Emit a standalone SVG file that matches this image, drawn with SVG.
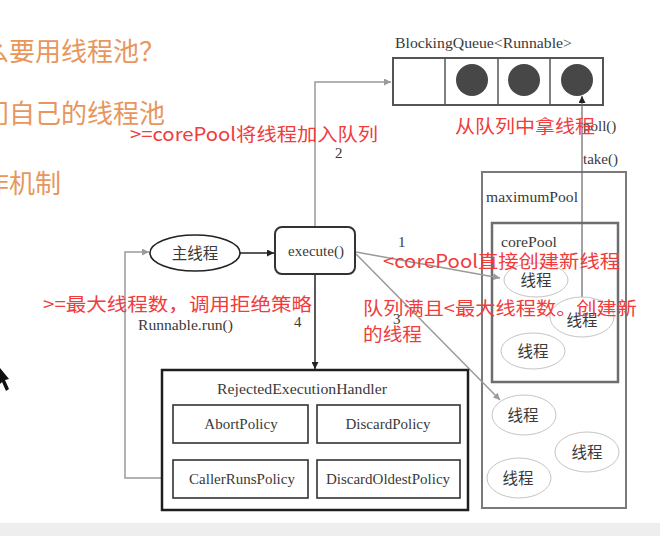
<svg xmlns="http://www.w3.org/2000/svg" width="660" height="536" viewBox="0 0 660 536">
<defs>
<style>
.serif{font-family:"Liberation Serif","DejaVu Serif","Noto Sans CJK SC",serif;fill:#3a3a3a;font-size:15px}
.cjk{font-family:"Noto Sans CJK SC","Noto Sans",sans-serif;fill:#3a3a3a;font-size:15.5px}
.red{font-family:"Noto Sans CJK SC","Noto Sans",sans-serif;fill:#f03c3c;font-size:18.5px}
.org{font-family:"Noto Sans CJK SC","Noto Sans",sans-serif;fill:#e8965c;font-size:26px}
.gl{fill:none;stroke:#9a9a9a;stroke-width:1.5}
.bl{fill:none;stroke:#222;stroke-width:1.5}
.box{fill:#fff;stroke:#333;stroke-width:1.6}
.ell{fill:#fff;stroke:#c4c4c4;stroke-width:1}
</style>
<marker id="ag" viewBox="0 0 10 10" refX="10" refY="5" markerWidth="7" markerHeight="7" orient="auto" markerUnits="userSpaceOnUse"><path d="M0,0 L10,5 L0,10 z" fill="#9a9a9a"/></marker>
<marker id="ab" viewBox="0 0 10 10" refX="10" refY="5" markerWidth="7" markerHeight="7" orient="auto" markerUnits="userSpaceOnUse"><path d="M0,0 L10,5 L0,10 z" fill="#222"/></marker>
</defs>
<rect x="0" y="0" width="660" height="536" fill="#fff"/>
<rect x="0" y="523" width="660" height="13" fill="#eeeeee"/>

<g id="slide-text">
<text class="org" x="-17" y="61">么要用线程池？</text>
<text class="org" x="-17" y="123">门自己的线程池</text>
<text class="org" x="-17" y="193">作机制</text>
</g>

<g id="queue">
<text class="serif" x="395" y="48" textLength="177" lengthAdjust="spacingAndGlyphs">BlockingQueue&lt;Runnable&gt;</text>
<rect x="393" y="58" width="210" height="47" fill="#fff" stroke="#555" stroke-width="2"/>
<line x1="445" y1="58" x2="445" y2="105" stroke="#555" stroke-width="1.5"/>
<line x1="498" y1="58" x2="498" y2="105" stroke="#555" stroke-width="1.5"/>
<line x1="550" y1="58" x2="550" y2="105" stroke="#555" stroke-width="1.5"/>
<circle cx="472" cy="80" r="16" fill="#474747"/>
<circle cx="524" cy="80" r="16" fill="#474747"/>
<circle cx="577" cy="80" r="16" fill="#474747"/>
</g>

<g id="maximumPool">
<rect x="482" y="172" width="144" height="336" fill="none" stroke="#7a7a7a" stroke-width="2"/>
<text class="serif" x="486" y="202" textLength="92" lengthAdjust="spacingAndGlyphs">maximumPool</text>
</g>

<g id="corePool">
<rect x="492" y="223" width="126" height="159" fill="none" stroke="#6e6e6e" stroke-width="2.5"/>
<text class="serif" x="501" y="247" textLength="56" lengthAdjust="spacingAndGlyphs">corePool</text>
</g>

<g id="connectors">
<polyline class="gl" points="315,227 315,82 391,82" marker-end="url(#ag)"/>
<line class="gl" x1="356" y1="252" x2="500" y2="278" marker-end="url(#ag)"/>
<line class="gl" x1="356" y1="254" x2="500" y2="400" marker-end="url(#ag)"/>
<line class="bl" x1="240" y1="253" x2="274" y2="253" marker-end="url(#ab)"/>
<line class="bl" x1="315" y1="274" x2="315" y2="369" marker-end="url(#ab)"/>
<line x1="582" y1="298" x2="582" y2="96" stroke="#666" stroke-width="1.2" marker-end="url(#ab)"/>
<polyline class="gl" points="173,478 125,478 125,252 149,252" marker-end="url(#ag)"/>
</g>

<g id="t1"><ellipse class="ell" cx="536" cy="280" rx="32" ry="17"/><text class="cjk" x="536" y="286" text-anchor="middle">线程</text></g>
<g id="t2"><ellipse class="ell" cx="582" cy="317" rx="32" ry="20" fill-opacity="0.6"/><text class="cjk" x="582" y="326" text-anchor="middle">线程</text></g>
<g id="t3"><ellipse class="ell" cx="533" cy="351" rx="32" ry="18"/><text class="cjk" x="533" y="357" text-anchor="middle">线程</text></g>
<g id="t4"><ellipse class="ell" cx="524" cy="415" rx="32" ry="20"/><text class="cjk" x="523" y="421" text-anchor="middle">线程</text></g>
<g id="t5"><ellipse class="ell" cx="587" cy="452" rx="32" ry="20"/><text class="cjk" x="587" y="458" text-anchor="middle">线程</text></g>
<g id="t6"><ellipse class="ell" cx="519" cy="478" rx="32" ry="20"/><text class="cjk" x="518" y="484" text-anchor="middle">线程</text></g>

<g id="labels">
<text class="serif" x="335" y="158">2</text>
<text class="serif" x="398" y="247">1</text>
<text class="serif" x="393" y="324">3</text>
<text class="serif" x="294" y="327">4</text>
<text class="serif" x="583" y="131">poll()</text>
<text class="serif" x="583" y="164">take()</text>
<text class="serif" x="138" y="330" textLength="95" lengthAdjust="spacingAndGlyphs">Runnable.run()</text>
</g>

<g id="mainThread">
<ellipse cx="195" cy="253" rx="45" ry="18" fill="#fff" stroke="#222" stroke-width="1.6"/>
<text class="cjk" x="195" y="259" text-anchor="middle">主线程</text>
</g>

<g id="execute">
<rect x="275" y="227" width="80" height="47" rx="7" fill="#fff" stroke="#333" stroke-width="2"/>
<text class="serif" x="316" y="256" text-anchor="middle">execute()</text>
</g>

<g id="handler">
<rect x="162" y="370" width="306" height="140" fill="#fff" stroke="#1e1e1e" stroke-width="2.5"/>
<text class="serif" x="302" y="394" text-anchor="middle" textLength="170" lengthAdjust="spacingAndGlyphs">RejectedExecutionHandler</text>
</g>
<g id="abort"><rect class="box" x="173" y="405" width="135" height="38"/><text class="serif" x="241" y="429" text-anchor="middle">AbortPolicy</text></g>
<g id="discard"><rect class="box" x="317" y="405" width="143" height="38"/><text class="serif" x="388" y="429" text-anchor="middle">DiscardPolicy</text></g>
<g id="callerRuns"><rect class="box" x="173" y="460" width="135" height="38"/><text class="serif" x="242" y="484" text-anchor="middle">CallerRunsPolicy</text></g>
<g id="discardOldest"><rect class="box" x="317" y="460" width="143" height="38"/><text class="serif" x="388" y="484" text-anchor="middle">DiscardOldestPolicy</text></g>

<g id="annotations">
<text class="red" x="130" y="141" textLength="248" lengthAdjust="spacingAndGlyphs">&gt;=corePool将线程加入队列</text>
<text class="red" x="455" y="133" textLength="140" lengthAdjust="spacingAndGlyphs">从队列中拿线程</text>
<text class="red" x="43" y="311" textLength="269" lengthAdjust="spacingAndGlyphs">&gt;=最大线程数，调用拒绝策略</text>
<text class="red" x="383" y="268" textLength="237" lengthAdjust="spacingAndGlyphs">&lt;corePool直接创建新线程</text>
<text class="red" x="363" y="315" textLength="274" lengthAdjust="spacingAndGlyphs">队列满且&lt;最大线程数。创建新</text>
<text class="red" x="363" y="341" textLength="59" lengthAdjust="spacingAndGlyphs">的线程</text>
</g>

<path d="M0,368 L9,379 L5,380 L9,389 L6,391 L2,382 L0,384 Z" fill="#111"/>
</svg>
